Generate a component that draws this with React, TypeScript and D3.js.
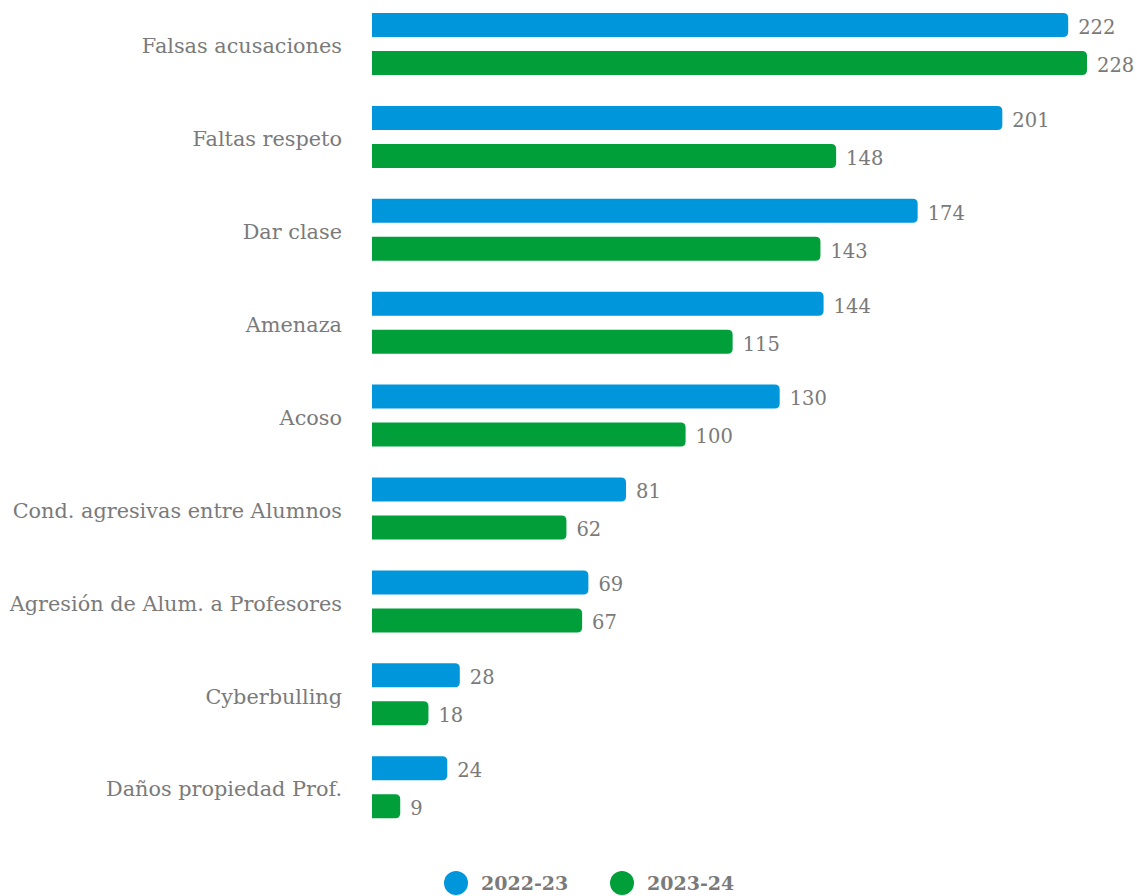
import { useRef, useEffect } from "react";
import * as d3 from "d3";

const categories = [
  "Falsas acusaciones",
  "Faltas respeto",
  "Dar clase",
  "Amenaza",
  "Acoso",
  "Cond. agresivas entre Alumnos",
  "Agresión de Alum. a Profesores",
  "Cyberbulling",
  "Daños propiedad Prof.",
];
const series = ["2022-23", "2023-24"];
const values2022 = [222, 201, 174, 144, 130, 81, 69, 28, 24];
const values2023 = [228, 148, 143, 115, 100, 62, 67, 18, 9];
const colors = ["#0096db", "#009f3a"];

const width = 1137;
const height = 896;
const font = "'DejaVu Serif', serif";

function barPath(x0: number, x1: number, y: number, h: number, r: number) {
  const rr = Math.min(r, (x1 - x0) / 2, h / 2);
  return `M${x0},${y}H${x1 - rr}Q${x1},${y} ${x1},${y + rr}V${y + h - rr}Q${x1},${y + h} ${x1 - rr},${y + h}H${x0}Z`;
}

export default function App() {
  const svgRef = useRef(null);

  useEffect(() => {
    document.body.style.margin = "0";
    const svg = d3.select(svgRef.current);
    svg.selectAll("*").remove();
    svg.attr("width", width).attr("height", height);

    const rows = categories.map((c, i) => ({ cat: c, vals: [values2022[i], values2023[i]] }));

    const x = d3.scaleLinear().domain([0, 228]).range([372, 1087]);
    const y = d3.scaleBand().domain(categories).range([13, 13 + 9 * 92.9]);
    const y1 = d3.scaleBand().domain(series).range([0, 62]).paddingInner(0.368);

    const g = svg
      .selectAll("g.row")
      .data(rows)
      .join("g")
      .attr("class", "row")
      .attr("transform", (d) => `translate(0,${y(d.cat)})`);

    g.append("text")
      .attr("x", 342)
      .attr("y", 33)
      .attr("dy", "0.35em")
      .attr("text-anchor", "end")
      .attr("font-family", font)
      .attr("font-size", 20.8)
      .attr("fill", "#7a7a7a")
      .text((d) => d.cat);

    series.forEach((s, si) => {
      g.append("path")
        .attr("d", (d) => barPath(x(0), x(d.vals[si]), y1(s)!, y1.bandwidth(), 5))
        .attr("fill", colors[si]);
      g.append("text")
        .attr("x", (d) => x(d.vals[si]) + 10)
        .attr("y", y1(s)! + y1.bandwidth() / 2 + 2)
        .attr("dy", "0.35em")
        .attr("font-family", font)
        .attr("font-size", 19.5)
        .attr("fill", "#7a7a7a")
        .text((d) => d.vals[si]);
    });

    const legendX = [456, 622];
    const leg = svg
      .selectAll("g.legend")
      .data(series)
      .join("g")
      .attr("class", "legend")
      .attr("transform", (d, i) => `translate(${legendX[i]},883)`);
    leg.append("circle").attr("r", 12).attr("fill", (d, i) => colors[i]);
    leg
      .append("text")
      .attr("x", 25)
      .attr("dy", "0.35em")
      .attr("font-family", font)
      .attr("font-size", 19)
      .attr("font-weight", "bold")
      .attr("fill", "#7a7a7a")
      .text((d) => d);
  }, []);

  return (
    <div>
      <svg ref={svgRef} />
    </div>
  );
}
